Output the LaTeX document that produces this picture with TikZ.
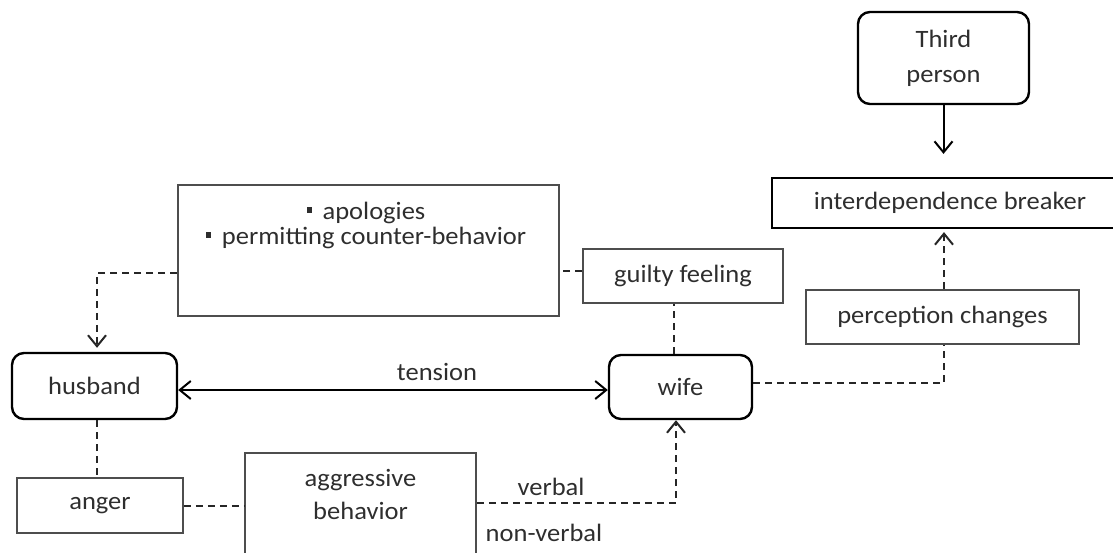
\documentclass[tikz,border=0pt]{standalone}
\usepackage{fontspec}
\setmainfont{Carlito}[FakeStretch=1.06]
\usetikzlibrary{arrows.meta,calc}
\definecolor{txt}{HTML}{2E2E2E}
\definecolor{bx}{HTML}{4D4D4D}
\newcommand\mybul{\rule[0.28em]{0.22em}{0.22em}\hspace{0.42em}}
\begin{document}
\begin{tikzpicture}[x=1pt,y=-1pt,
  font=\fontsize{25}{30}\selectfont, text=txt,
  rbox/.style={draw=black,line width=2.4pt,rounded corners=12pt,inner sep=0pt},
  tbox/.style={draw=black,line width=2.2pt,inner sep=0pt},
  gbox/.style={draw=bx,line width=1.9pt,inner sep=0pt},
  dsh/.style={draw=black!85,line width=2pt,dash pattern=on 7pt off 5pt},
  sol/.style={draw=black,line width=2pt},
  arr/.style={-{Straight Barb[length=11pt,width=18pt]}},
  darr/.style={{Straight Barb[length=11pt,width=18pt]}-{Straight Barb[length=11pt,width=18pt]}},
  lbl/.style={anchor=base,inner sep=0pt}
]
\useasboundingbox (0,0) rectangle (1113,552);
\clip (0,0) rectangle (1113,552);

\node[rbox,minimum width=171pt,minimum height=92pt,align=center,font=\fontsize{25}{35}\selectfont] (third) at (943.5,58) {Third\\person};
\node[tbox,minimum width=356pt,minimum height=50pt] (inter) at (950,203) {interdependence breaker};
\node[gbox,minimum width=200pt,minimum height=54pt] (guilty) at (683,276) {guilty feeling};
\node[gbox,minimum width=273pt,minimum height=54pt] (perc) at (942.5,317) {perception changes};
\node[rbox,minimum width=143pt,minimum height=64pt] (wife) at (680.5,387) {wife};
\node[rbox,minimum width=165pt,minimum height=66pt] (husband) at (94.5,386) {husband};
\node[gbox,minimum width=166pt,minimum height=55pt] (anger) at (100,505.5) {anger};
\node[gbox,minimum width=381pt,minimum height=131pt] (apol) at (368.5,250.5) {};
\node[anchor=north,align=center,inner sep=0pt,font=\fontsize{25}{25}\selectfont] (apoltext) at (366,202) {\mybul apologies\\\mybul permitting counter-behavior};
\node[gbox,minimum width=231pt,minimum height=147pt] (aggr) at (360.5,526.5) {};
\node[anchor=north,align=center,inner sep=0pt,font=\fontsize{25}{33}\selectfont] (aggrtext) at (360.5,469) {aggressive\\behavior};

\node[lbl] (tension) at (437,380) {tension};
\node[lbl] (verbal) at (551,495) {verbal};
\node[lbl] (nonverbal) at (544,541) {non-verbal};

\draw[sol,arr,shorten >=23pt] (third.south) -- (third.south |- inter.north);
\draw[dsh,arr,shorten >=3pt] ([xshift=1.5pt]perc.north) -- ([xshift=1.5pt]perc.north |- inter.south);
\draw[dsh] ([yshift=4pt]wife.east) -| ([xshift=1.5pt]perc.south);
\draw[dsh] ([xshift=-6.5pt]wife.north) -- ([xshift=-6.5pt]wife.north |- guilty.south);
\draw[dsh] ([yshift=5pt]guilty.west) -- ([yshift=5pt]guilty.west -| apol.east);
\draw[dsh,arr,shorten >=4pt] ([yshift=-22.5pt]apol.west) -| ([xshift=2.5pt]husband.north);
\draw[sol,darr] ([yshift=-4pt]husband.east) -- ([yshift=-4pt]husband.east -| wife.west);
\draw[dsh] ([xshift=2.5pt]husband.south) -- ([xshift=2.5pt]husband.south |- anger.north);
\draw[dsh] (anger.east) -- (anger.east -| aggr.west);
\draw[dsh,arr] ([yshift=2.5pt]anger.east -| aggr.east) -| ([xshift=-4.5pt]wife.south);
\end{tikzpicture}
\end{document}
